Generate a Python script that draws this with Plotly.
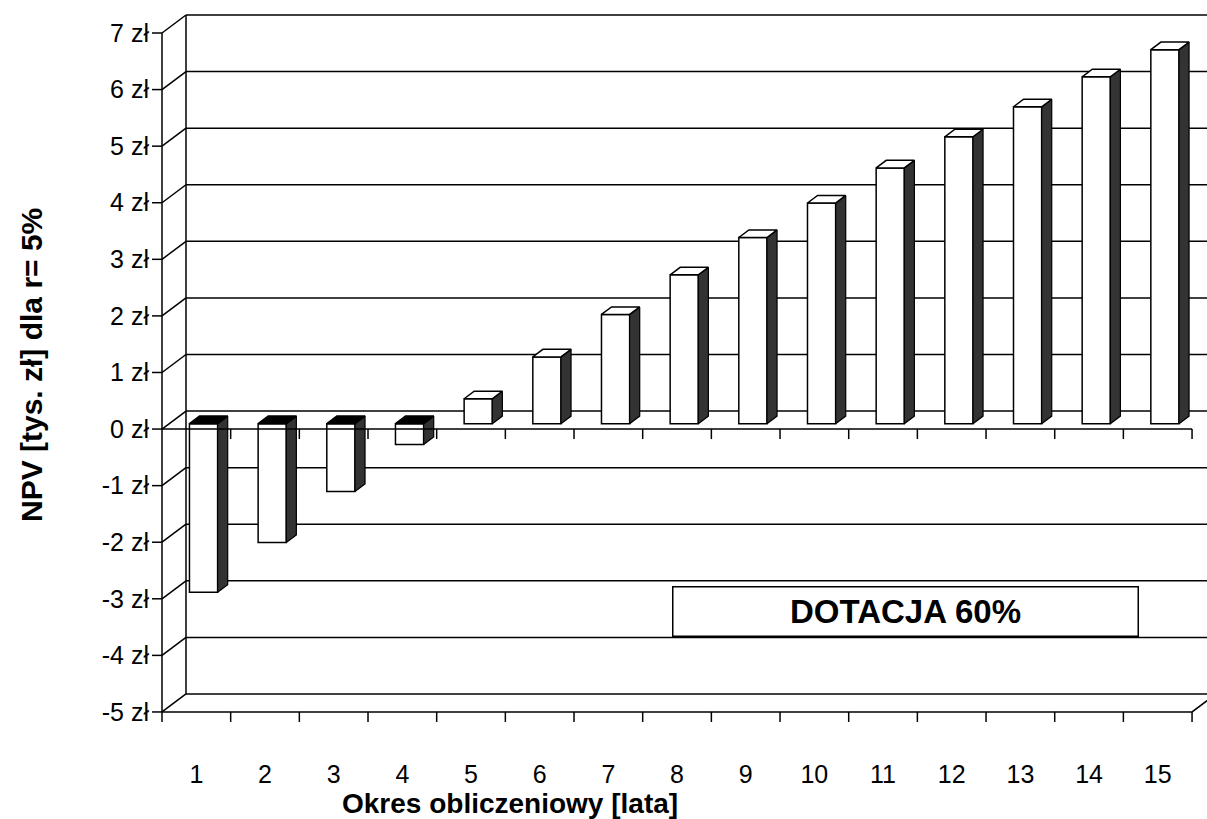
import plotly.graph_objects as go

# ---------------- data ----------------
years = list(range(1, 16))
year_labels = [str(y) for y in years]
npv = [-2.98, -2.10, -1.20, -0.37, 0.44, 1.18, 1.93, 2.63, 3.29, 3.90, 4.52, 5.07, 5.60, 6.13, 6.61]
y_ticks = list(range(-5, 8))
y_tick_labels = [f"{v} zł" for v in y_ticks]
box_text = "DOTACJA 60%"
y_title = "NPV [tys. zł] dla r= 5%"
x_title = "Okres obliczeniowy [lata]"

# ---------------- geometry (style constants) ----------------
W, H = 1207, 819
ML, MR, MT, MB = 150, 0, 0, 82
PXC = 68.67   # px per category
PXV = 56.58   # px per value unit
X0 = 0.5      # front left corner (category units)
YMIN, YMAX = y_ticks[0], y_ticks[-1]
x_lo = X0 - (162 - ML) / PXC
x_hi = x_lo + (W - ML - MR) / PXC
y_hi = YMAX + 33 / PXV
y_lo = y_hi - (H - MT - MB) / PXV

DXW = 24 / PXC          # wall depth in x units
DYW = 18 / PXV          # wall depth in y units (upward)
F0, F1 = 0.30, 0.72     # bar front / back depth fraction
BW = 0.41               # bar width (category units)
XEND = years[-1] + 0.5
TICKY = 10 / PXV
TICKX = 10 / PXC
LINE = dict(color="black", width=1.5)

fig = go.Figure()

# ---------------- back wall & left wall (below traces) ----------------
shapes = []
for v in y_ticks:
    shapes.append(dict(type="line", xref="x", yref="y", layer="below",
                       x0=X0 + DXW, y0=v + DYW, x1=XEND + DXW + 1, y1=v + DYW, line=LINE))
    shapes.append(dict(type="line", xref="x", yref="y", layer="below",
                       x0=X0, y0=v, x1=X0 + DXW, y1=v + DYW, line=LINE))
shapes.append(dict(type="line", xref="x", yref="y", layer="below",
                   x0=X0 + DXW, y0=YMIN + DYW, x1=X0 + DXW, y1=YMAX + DYW, line=LINE))

# ---------------- bars ----------------
ox, oy = F0 * DXW, F0 * DYW
dbx, dby = (F1 - F0) * DXW, (F1 - F0) * DYW
xc = [x + ox for x in years]

fig.add_trace(go.Bar(
    x=xc, y=npv, base=[oy] * len(npv), width=BW,
    marker=dict(color="white", line=dict(color="black", width=1.5)),
    hoverinfo="skip", showlegend=False))

side_x, side_y, topp_x, topp_y, topn_x, topn_y = [], [], [], [], [], []
for x, v in zip(xc, npv):
    xl, xr = x - BW / 2, x + BW / 2
    yt = max(0, v) + oy
    yb = min(0, v) + oy
    side_x += [xr, xr, xr + dbx, xr + dbx, xr, None]
    side_y += [yb, yt, yt + dby, yb + dby, yb, None]
    tx = [xl, xr, xr + dbx, xl + dbx, xl, None]
    ty = [yt, yt, yt + dby, yt + dby, yt, None]
    if v >= 0:
        topp_x += tx; topp_y += ty
    else:
        topn_x += tx; topn_y += ty

fig.add_trace(go.Scatter(x=side_x, y=side_y, mode="lines", fill="toself",
                         fillcolor="#333333", line=dict(color="black", width=1.2),
                         hoverinfo="skip", showlegend=False))
fig.add_trace(go.Scatter(x=topp_x, y=topp_y, mode="lines", fill="toself",
                         fillcolor="white", line=dict(color="black", width=1.5),
                         hoverinfo="skip", showlegend=False))
fig.add_trace(go.Scatter(x=topn_x, y=topn_y, mode="lines", fill="toself",
                         fillcolor="black", line=dict(color="black", width=1.5),
                         hoverinfo="skip", showlegend=False))

# ---------------- front edges, axis line, tick marks ----------------
fx, fy = [], []
fx += [X0, X0, None]; fy += [YMIN, YMAX, None]
for v in y_ticks:
    fx += [X0 - TICKX, X0, None]; fy += [v, v, None]
fx += [X0, XEND, None]; fy += [0, 0, None]
fx += [X0, XEND, XEND + DXW, None]; fy += [YMIN, YMIN, YMIN + DYW, None]
for b in [y + 0.5 for y in [0] + years]:
    if b > X0:
        fx += [b, b, None]; fy += [0, -TICKY, None]
    fx += [b, b, None]; fy += [YMIN, YMIN - TICKY, None]
fig.add_trace(go.Scatter(x=fx, y=fy, mode="lines", line=LINE,
                         hoverinfo="skip", showlegend=False))

# ---------------- layout ----------------
FONT = "Arial, Liberation Sans, sans-serif"
def px2paper_x(p):
    return (p - ML) / (W - ML - MR)
def px2paper_y(p):
    return (H - MB - p) / (H - MT - MB)

fig.update_layout(
    width=W, height=H,
    margin=dict(l=ML, r=MR, t=MT, b=MB),
    paper_bgcolor="white", plot_bgcolor="white",
    font=dict(family=FONT, color="black", size=25),
    showlegend=False,
    shapes=shapes,
    xaxis=dict(range=[x_lo, x_hi], tickvals=years, ticktext=year_labels,
               showgrid=False, zeroline=False, showline=False,
               ticks="outside", ticklen=15, tickcolor="rgba(0,0,0,0)",
               tickfont=dict(size=25), fixedrange=True),
    yaxis=dict(range=[y_lo, y_hi], tickvals=y_ticks, ticktext=y_tick_labels,
               showgrid=False, zeroline=False, showline=False, ticks="",
               tickfont=dict(size=25), fixedrange=True),
    annotations=[
        dict(text=box_text, xref="x", yref="y", x=11.33, y=-3.23, showarrow=False,
             xanchor="center", yanchor="middle",
             font=dict(size=33, family=FONT, weight="bold"),
             bgcolor="white", bordercolor="black", borderwidth=1.5,
             width=462, height=46, align="center", valign="middle"),
        dict(text=y_title, xref="paper", yref="paper",
             x=px2paper_x(31), y=px2paper_y(365), textangle=-90, showarrow=False,
             xanchor="center", yanchor="middle",
             font=dict(size=30, family=FONT, weight="bold")),
        dict(text=x_title, xref="paper", yref="paper",
             x=px2paper_x(510), y=px2paper_y(803), showarrow=False,
             xanchor="center", yanchor="middle",
             font=dict(size=28, family=FONT, weight="bold")),
    ],
)

fig.write_html("out.html", config={"displayModeBar": False},
               post_script="document.body.style.margin='0';document.body.style.padding='0';")
